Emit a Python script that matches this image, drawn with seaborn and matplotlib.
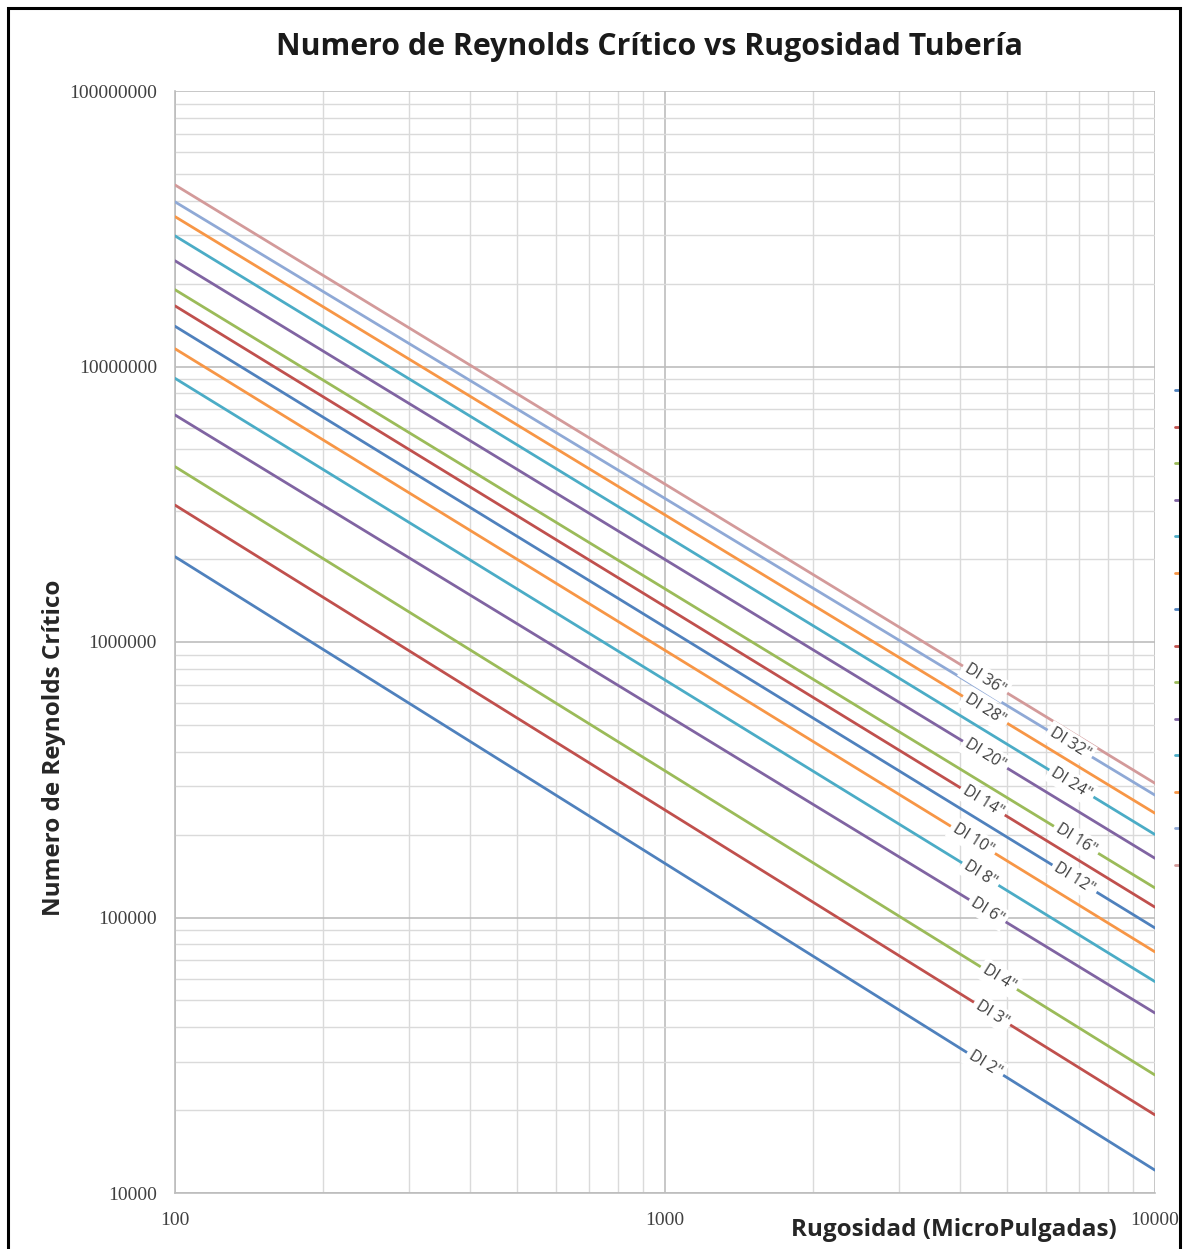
import numpy as np
import pandas as pd
import matplotlib
matplotlib.use("Agg")
import matplotlib.pyplot as plt
import seaborn as sns
from matplotlib.ticker import LogLocator, FixedLocator, NullFormatter
from matplotlib.patches import Rectangle

# ---------------- data ----------------
diametros = ['DI 2"', 'DI 3"', 'DI 4"', 'DI 6"', 'DI 8"', 'DI 10"', 'DI 12"',
             'DI 14"', 'DI 16"', 'DI 20"', 'DI 24"', 'DI 28"', 'DI 32"', 'DI 36"']
rugosidad = [100, 10000]
re_rug_100 = [2.04e6, 3.14e6, 4.33e6, 6.67e6, 9.06e6, 1.16e7, 1.40e7,
              1.66e7, 1.90e7, 2.42e7, 2.98e7, 3.50e7, 3.96e7, 4.56e7]
re_rug_10000 = [1.21e4, 1.92e4, 2.68e4, 4.50e4, 5.85e4, 7.50e4, 9.16e4,
                1.09e5, 1.28e5, 1.64e5, 2.00e5, 2.39e5, 2.78e5, 3.07e5]
x_ticks = [100, 1000, 10000]
y_ticks = [1e4, 1e5, 1e6, 1e7, 1e8]

colores = ["#4F81BD", "#C0504D", "#9BBB59", "#8064A2", "#4BACC6", "#F79646",
           "#4F81BD", "#C0504D", "#9BBB59", "#8064A2", "#4BACC6", "#F79646",
           "#8FA9D6", "#D39A9A"]

rows = []
for d, a, b in zip(diametros, re_rug_100, re_rug_10000):
    rows.append({"Diametro": d, "Rugosidad": rugosidad[0], "Re": a})
    rows.append({"Diametro": d, "Rugosidad": rugosidad[1], "Re": b})
df = pd.DataFrame(rows)

# label positions along x (style)
label_x = {'DI 2"': 4500, 'DI 3"': 4650, 'DI 4"': 4800, 'DI 6"': 4550, 'DI 8"': 4400,
           'DI 10"': 4250, 'DI 12"': 6850, 'DI 14"': 4450, 'DI 16"': 6900,
           'DI 20"': 4500, 'DI 24"': 6750, 'DI 28"': 4500, 'DI 32"': 6700, 'DI 36"': 4500}

# ---------------- figure ----------------
sns.set_style("white")
W, H = 1192, 1249
fig = plt.figure(figsize=(W / 100, H / 100), dpi=100)
ax = fig.add_axes([175 / W, 1 - 1193 / H, 980 / W, 1102 / H])

sns.lineplot(data=df, x="Rugosidad", y="Re", hue="Diametro", hue_order=diametros,
             palette=colores, linewidth=2.0, ax=ax, legend=False, zorder=3)

ax.set_xscale("log")
ax.set_yscale("log")
ax.set_xlim(100, 10000)
ax.set_ylim(1e4, 1e8)

ax.xaxis.set_major_locator(FixedLocator(x_ticks))
ax.yaxis.set_major_locator(FixedLocator(y_ticks))
ax.set_xticklabels([str(v) for v in x_ticks])
ax.set_yticklabels([str(int(v)) for v in y_ticks])
ax.xaxis.set_minor_locator(LogLocator(base=10, subs=np.arange(2, 10)))
ax.yaxis.set_minor_locator(LogLocator(base=10, subs=np.arange(2, 10)))
ax.xaxis.set_minor_formatter(NullFormatter())
ax.yaxis.set_minor_formatter(NullFormatter())

ax.grid(True, which="major", color="#BDBDBD", linewidth=1.2, zorder=0)
ax.grid(True, which="minor", color="#DADADA", linewidth=1.0, zorder=0)
ax.set_axisbelow(True)
for s in ["top", "right"]:
    ax.spines[s].set_visible(False)
for s in ["left", "bottom"]:
    ax.spines[s].set_color("#BDBDBD")
    ax.spines[s].set_linewidth(1.2)

ax.tick_params(axis="both", which="major", length=6, color="#BDBDBD", width=1.0)
ax.tick_params(axis="both", which="minor", length=0)
ax.tick_params(axis="y", pad=7)
ax.tick_params(axis="x", pad=8)
for lab in ax.get_xticklabels() + ax.get_yticklabels():
    lab.set_fontfamily("Liberation Serif")
    lab.set_fontsize(14)
    lab.set_color("#404040")

# line labels
for d in diametros:
    sub = df[df["Diametro"] == d]
    xs = np.log10(sub["Rugosidad"].values)
    ys = np.log10(sub["Re"].values)
    lx = label_x[d]
    ly = 10 ** np.interp(np.log10(lx), xs, ys)
    ax.text(lx, ly, d, rotation=-32, rotation_mode="anchor", ha="center", va="center",
            fontsize=11.5, family="Open Sans", color="#404040", zorder=5,
            bbox=dict(facecolor="white", edgecolor="none", pad=2.5))

# axis labels
ax.set_xlabel("Rugosidad (MicroPulgadas)", fontsize=17.5, fontweight="bold",
              family="Open Sans", color="#262626")
ax.xaxis.set_label_coords((954 - 175) / 980, (1193 - 1218) / 1102)
ax.set_ylabel("Numero de Reynolds Crítico", fontsize=17.5, fontweight="bold",
              family="Open Sans", color="#262626")
ax.yaxis.set_label_coords((66 - 175) / 980, (1193 - 748) / 1102)

fig.text(649 / W, 1 - 47 / H, "Numero de Reynolds Crítico vs Rugosidad Tubería",
         ha="center", va="center", fontsize=21.8, fontweight="bold",
         family="Open Sans", color="#1a1a1a")

# legend clipped by the chart border: only the handle tips are visible
handles = ax.get_lines()[:len(diametros)]
leg = fig.legend(handles, [""] * len(diametros), loc="upper left",
                 bbox_to_anchor=(1175 / W, 1 - 384 / H), frameon=False,
                 handlelength=0.35, handletextpad=0.2, fontsize=10,
                 labelspacing=1.62, borderpad=0, borderaxespad=0)

# chart border
fig.patches.append(Rectangle((8 / W, -0.05), (1180 - 8) / W, 1 - 8 / H + 0.05,
                             transform=fig.transFigure, fill=False,
                             edgecolor="black", linewidth=2.2, zorder=10))
fig.patches.append(Rectangle((1181 / W, 0), 1, 1, transform=fig.transFigure,
                             facecolor="white", edgecolor="none", zorder=9))

fig.savefig("out.png", dpi=100)
